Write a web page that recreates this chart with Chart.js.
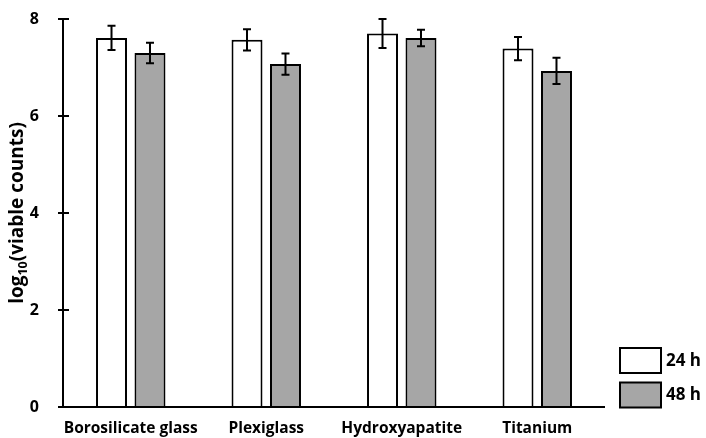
<!DOCTYPE html>
<html>
<head>
<meta charset="utf-8">
<script src="https://cdn.jsdelivr.net/npm/chart.js@4"></script>
<style>
  html, body { margin: 0; padding: 0; background: #fff; }
  #wrap { width: 706px; height: 438px; }
</style>
</head>
<body>
<div id="wrap"><canvas id="chart" width="706" height="438"></canvas></div>
<script>
// Surfaces and mean log10 counts after 24 h and 48 h
const surfaces = ['Borosilicate glass', 'Plexiglass', 'Hydroxyapatite', 'Titanium'];
const counts24 = [7.61, 7.57, 7.70, 7.39];
const counts48 = [7.30, 7.07, 7.61, 6.93];
const sd24 = [0.25, 0.22, 0.30, 0.24];
const sd48 = [0.21, 0.22, 0.17, 0.27];
const yTicks = [0, 2, 4, 6, 8];

const FONT = '"Open Sans", sans-serif';
const GREY = '#a6a6a6';

// Error bars, axis lines with crossing ticks, rotated y title and the legend
const extras = {
    id: 'extras',
    afterDatasetsDraw(chart) {
        const c = chart.ctx;
        const y = chart.scales.y;
        const area = chart.chartArea;
        c.save();
        c.strokeStyle = '#000';
        c.lineWidth = 2;

        // error bars
        [[0, sd24], [1, sd48]].forEach(([di, sd]) => {
            const meta = chart.getDatasetMeta(di);
            meta.data.forEach((bar, i) => {
                const v = chart.data.datasets[di].data[i];
                const top = y.getPixelForValue(v + sd[i]);
                const bot = y.getPixelForValue(v - sd[i]);
                c.beginPath();
                c.moveTo(bar.x, top); c.lineTo(bar.x, bot);
                c.moveTo(bar.x - 4, top); c.lineTo(bar.x + 4, top);
                c.moveTo(bar.x - 4, bot); c.lineTo(bar.x + 4, bot);
                c.stroke();
            });
        });

        // axes
        c.beginPath();
        c.moveTo(area.left, y.getPixelForValue(8));
        c.lineTo(area.left, area.bottom);
        c.moveTo(area.left - 5, area.bottom);
        c.lineTo(area.right, area.bottom);
        yTicks.forEach(t => {
            const py = y.getPixelForValue(t);
            c.moveTo(area.left - 5, py);
            c.lineTo(area.left + 6, py);
        });
        c.stroke();

        // y title with subscript
        c.fillStyle = '#000';
        c.translate(18, (area.top + area.bottom) / 2);
        c.rotate(-Math.PI / 2);
        c.textBaseline = 'middle';
        const big = 'bold 19px ' + FONT, small = 'bold 12.5px ' + FONT;
        c.font = big; const w1 = c.measureText('log').width;
        const w3 = c.measureText('(viable counts)').width;
        c.font = small; const w2 = c.measureText('10').width;
        let x = -(w1 + w2 + w3) / 2;
        c.font = big; c.fillText('log', x, 0); x += w1;
        c.font = small; c.fillText('10', x, 5); x += w2;
        c.font = big; c.fillText('(viable counts)', x, 0);
        c.restore();

        // legend
        c.save();
        c.lineWidth = 2;
        c.strokeStyle = '#000';
        c.font = 'bold 17px ' + FONT;
        c.textBaseline = 'middle';
        chart.data.datasets.forEach((ds, i) => {
            const top = 348 + i * 34.5;
            c.fillStyle = ds.backgroundColor;
            c.fillRect(620, top, 41, 25);
            c.strokeRect(620, top, 41, 25);
            c.fillStyle = '#000';
            c.fillText(ds.label, 666, top + 13);
        });
        c.restore();
    }
};

new Chart(document.getElementById('chart'), {
    type: 'bar',
    data: {
        labels: surfaces,
        datasets: [
            { label: '24 h', data: counts24, backgroundColor: '#ffffff', borderColor: '#000', borderWidth: 2 },
            { label: '48 h', data: counts48, backgroundColor: GREY, borderColor: '#000', borderWidth: 2 }
        ]
    },
    options: {
        responsive: false,
        animation: false,
        devicePixelRatio: 1,
        categoryPercentage: 0.568,
        barPercentage: 0.805,
        layout: { padding: { left: 0, right: 101, top: 19, bottom: 0 } },
        plugins: { legend: { display: false }, tooltip: { enabled: false } },
        scales: {
            x: {
                grid: { display: false },
                border: { display: false },
                ticks: {
                    color: '#000', maxRotation: 0, autoSkip: false, padding: 4,
                    font: { family: FONT, size: 15.5, weight: 'bold' }
                },
                afterFit(s) { s.height = 31; s.paddingLeft = 0; s.paddingRight = 0; }
            },
            y: {
                min: 0, max: 8,
                afterBuildTicks(s) { s.ticks = yTicks.map(v => ({ value: v })); },
                grid: { display: false },
                border: { display: false },
                ticks: { color: '#000', font: { family: FONT, size: 16, weight: 'bold' }, padding: 16 },
                afterFit(s) { s.width = 63; s.paddingTop = 0; s.paddingBottom = 0; }
            }
        }
    },
    plugins: [extras]
});
</script>
</body>
</html>
